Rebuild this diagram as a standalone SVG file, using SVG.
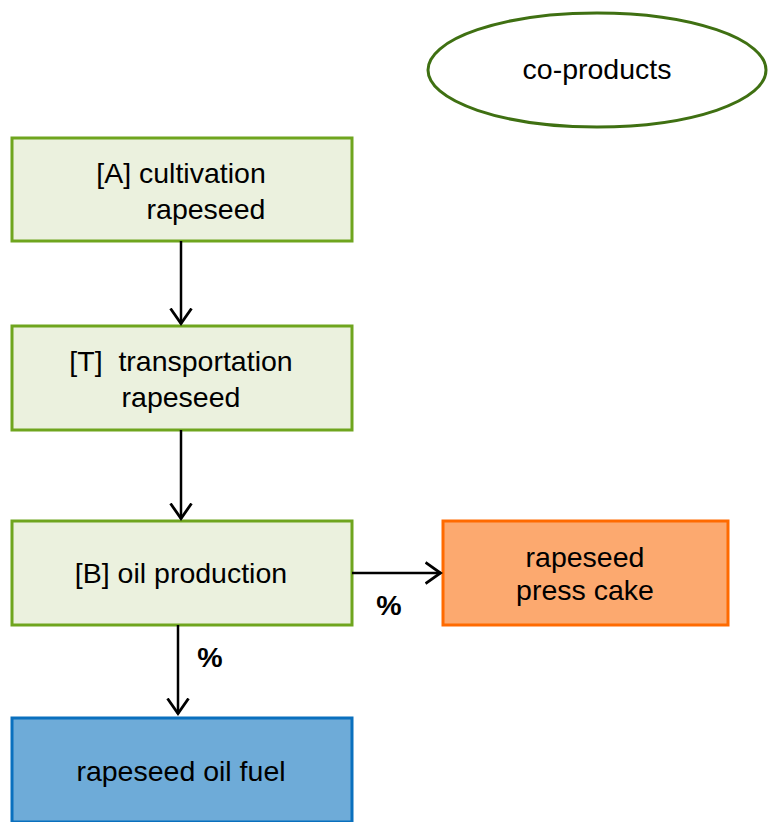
<svg xmlns="http://www.w3.org/2000/svg" width="768" height="822" viewBox="0 0 768 822">
<style>
text{font-family:"Liberation Sans",Arial,sans-serif;font-size:28.5px;fill:#000;text-anchor:middle}
.g{fill:#EBF1DE;stroke:#6FA51E;stroke-width:3}
.o{fill:#FCA96F;stroke:#FF6A00;stroke-width:3}
.b{fill:#6EABD8;stroke:#0A70BE;stroke-width:3}
.e{fill:#fff;stroke:#3F7012;stroke-width:3}
.c{stroke:#000;stroke-width:2.5;fill:none}
.p{font-weight:bold}
</style>
<defs>
<marker id="ah" viewBox="0 0 18 24" refX="16.5" refY="12" markerWidth="18" markerHeight="24" markerUnits="userSpaceOnUse" orient="auto">
<path d="M1,1.5 L16,12 L1,22.5" fill="none" stroke="#000" stroke-width="2.8"/>
</marker>
</defs>
<rect width="768" height="822" fill="#fff"/>
<g id="coproducts"><ellipse class="e" cx="597" cy="70" rx="169" ry="57"/><text x="597" y="79">co-products</text></g>
<g id="cultivation"><rect class="g" x="12" y="138" width="340" height="103"/><text x="181" y="183">[A] cultivation</text><text x="206" y="219">rapeseed</text></g>
<g id="transport"><rect class="g" x="12" y="326" width="340" height="104"/><text x="181" y="371" xml:space="preserve">[T]  transportation</text><text x="181" y="407">rapeseed</text></g>
<g id="oil"><rect class="g" x="12" y="521" width="340" height="104"/><text x="181" y="583">[B] oil production</text></g>
<g id="presscake"><rect class="o" x="443" y="521" width="285" height="104"/><text x="585" y="567">rapeseed</text><text x="585" y="600">press cake</text></g>
<g id="fuel"><rect class="b" x="12" y="718" width="340" height="104"/><text x="181" y="781">rapeseed oil fuel</text></g>
<g id="connectors">
<line class="c" x1="181" y1="241" x2="181" y2="324" marker-end="url(#ah)"/>
<line class="c" x1="181" y1="430" x2="181" y2="519" marker-end="url(#ah)"/>
<line class="c" x1="352" y1="573" x2="441" y2="573" marker-end="url(#ah)"/>
<line class="c" x1="178" y1="625" x2="178" y2="714" marker-end="url(#ah)"/>
<text class="p" x="389" y="615">%</text>
<text class="p" x="210" y="667">%</text>
</g>
</svg>
